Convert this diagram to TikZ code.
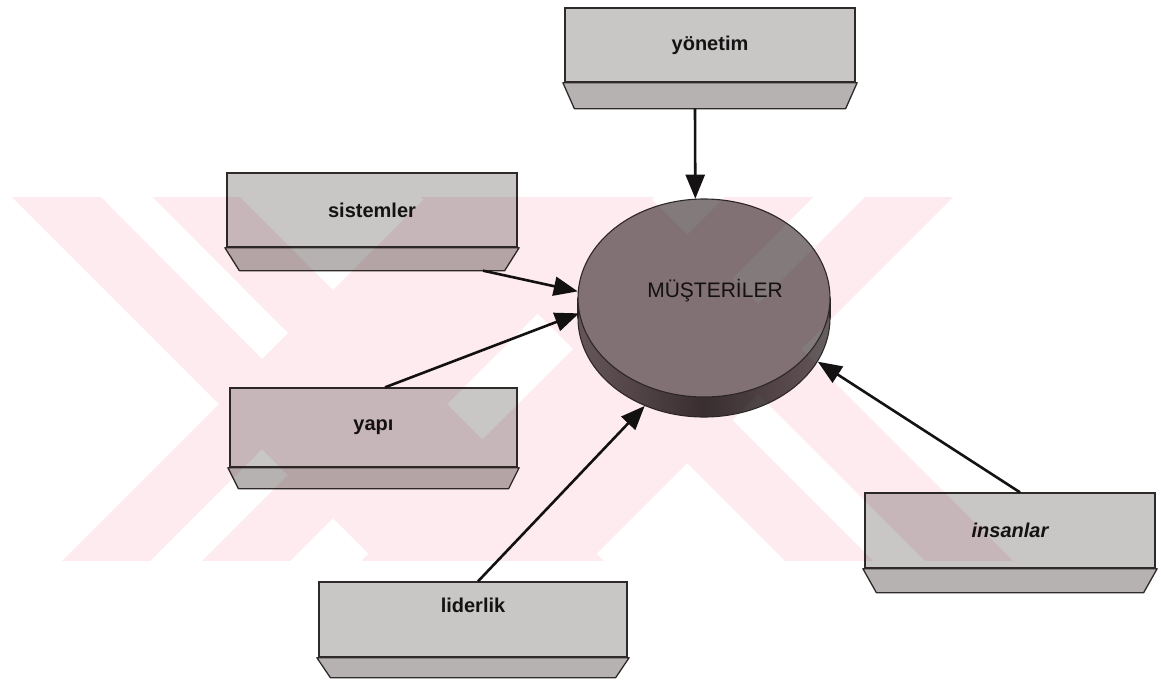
\documentclass[tikz,border=0pt]{standalone}
\usepackage{fontspec}
\setmainfont{Liberation Sans}
\usetikzlibrary{arrows.meta,shapes.geometric,calc}

\definecolor{boxface}{HTML}{C9C6C6}
\definecolor{boxbevel}{HTML}{B6B2B2}
\definecolor{boxline}{HTML}{2E2A2A}
\definecolor{diskface}{HTML}{837A7C}
\definecolor{diskrimside}{HTML}{675E60}
\definecolor{diskrimmid}{HTML}{3A3234}
\definecolor{ink}{HTML}{141212}
\definecolor{wmark}{HTML}{FDEBEF}

\tikzset{
  blockface/.style={rectangle, draw=boxline, line width=1.3pt, fill=boxface,
    inner sep=0pt, text=ink, font=\fontsize{20}{24}\selectfont\bfseries},
  bevelstrip/.style={draw=boxline, line width=1.3pt, fill=boxbevel, line join=round},
  diskstyle/.style={ellipse, draw=boxline, line width=1.1pt, inner sep=0pt,
    minimum width=252pt, minimum height=198pt},
  disklabel/.style={text=ink, font=\fontsize{21}{25}\selectfont},
  link/.style={draw=ink, line width=2.6pt, -{Triangle[length=24pt,width=19pt]}},
}

% chamfered lower strip under a block: #1 node, #2 depth, #3 inset
\newcommand\blockbevel[3]{%
  \path[bevelstrip] ($(#1.south west)+(-1.5,0)$) -- ($(#1.south east)+(1.5,0)$)
    -- ($(#1.south east)+(-#3,#2)$) -- ($(#1.south west)+(#3,#2)$) -- cycle;}

\begin{document}
\begin{tikzpicture}[x=1pt,y=-1pt]
\useasboundingbox (0,0) rectangle (1161,691);
\fill[white] (0,0) rectangle (1161,691);

% blocks
\node[blockface, minimum width=290pt, minimum height=74pt] (yon) at (710,45) {yönetim};
\blockbevel{yon}{26}{10}
\node[blockface, minimum width=290pt, minimum height=74pt] (sis) at (372,210) {sistemler};
\blockbevel{sis}{23}{13}
\node[blockface, minimum width=287pt, minimum height=79pt] (yap) at (373.5,427.5) {yapı};
\blockbevel{yap}{21}{9}
\node[blockface, minimum width=308pt, minimum height=75pt, text depth=28pt] (lid) at (473,619.5) {liderlik};
\blockbevel{lid}{20}{12}
\node[blockface, minimum width=290pt, minimum height=75pt, font=\fontsize{20}{24}\selectfont\bfseries\itshape] (ins) at (1010,530.5) {insanlar};
\blockbevel{ins}{24}{12}

% central disk: rim, sides, top face
\node[diskstyle, left color=diskrimside, right color=diskrimside, middle color=diskrimmid] (rim) at (704,318) {};
\fill[diskrimside] (578.5,298) rectangle (829.5,318);
\draw[boxline, line width=1.1pt] (578,298) -- (578,318) (830,298) -- (830,318);
\node[diskstyle, fill=diskface] (mus) at (704,298) {};
\node[disklabel] (muslabel) at (715,291) {MÜŞTERİLER};

% connectors
\draw[link] ($(yon.south)+(-15,26)$) -- (mus.95);
\draw[link] ($(sis.south)+(111,23)$) -- (mus.177);
\draw[link] ($(yap.north)+(11.5,0)$) -- (mus.187);
\draw[link] ($(lid.north)+(5,0)$) -- (rim.236);
\draw[link] ($(ins.north)+(10,0)$) -- (rim.-21);

% background emblem printed over the page
\begin{scope}[blend mode=multiply]
  \clip (0,197) rectangle (1161,560);
  \fill[wmark, nonzero rule]
    (-35,150) -- (193,150) -- (653,610) -- (425,610) -- cycle
    (473,150) -- (701,150) -- (241,610) -- (13,610) -- cycle
    (374,150) -- (602,150) -- (1062,610) -- (834,610) -- cycle
    (772,150) -- (1000,150) -- (540,610) -- (312,610) -- cycle
    (54,150) -- (262,359) -- (288,333) -- (106,150) -- cycle
    (262,449) -- (101,610) -- (153,610) -- (288,475) -- cycle
    (732,420) -- (922,610) -- (974,610) -- (758,394) -- cycle
    (860,150) -- (732,278) -- (758,304) -- (912,150) -- cycle;
\end{scope}
\end{tikzpicture}
\end{document}
